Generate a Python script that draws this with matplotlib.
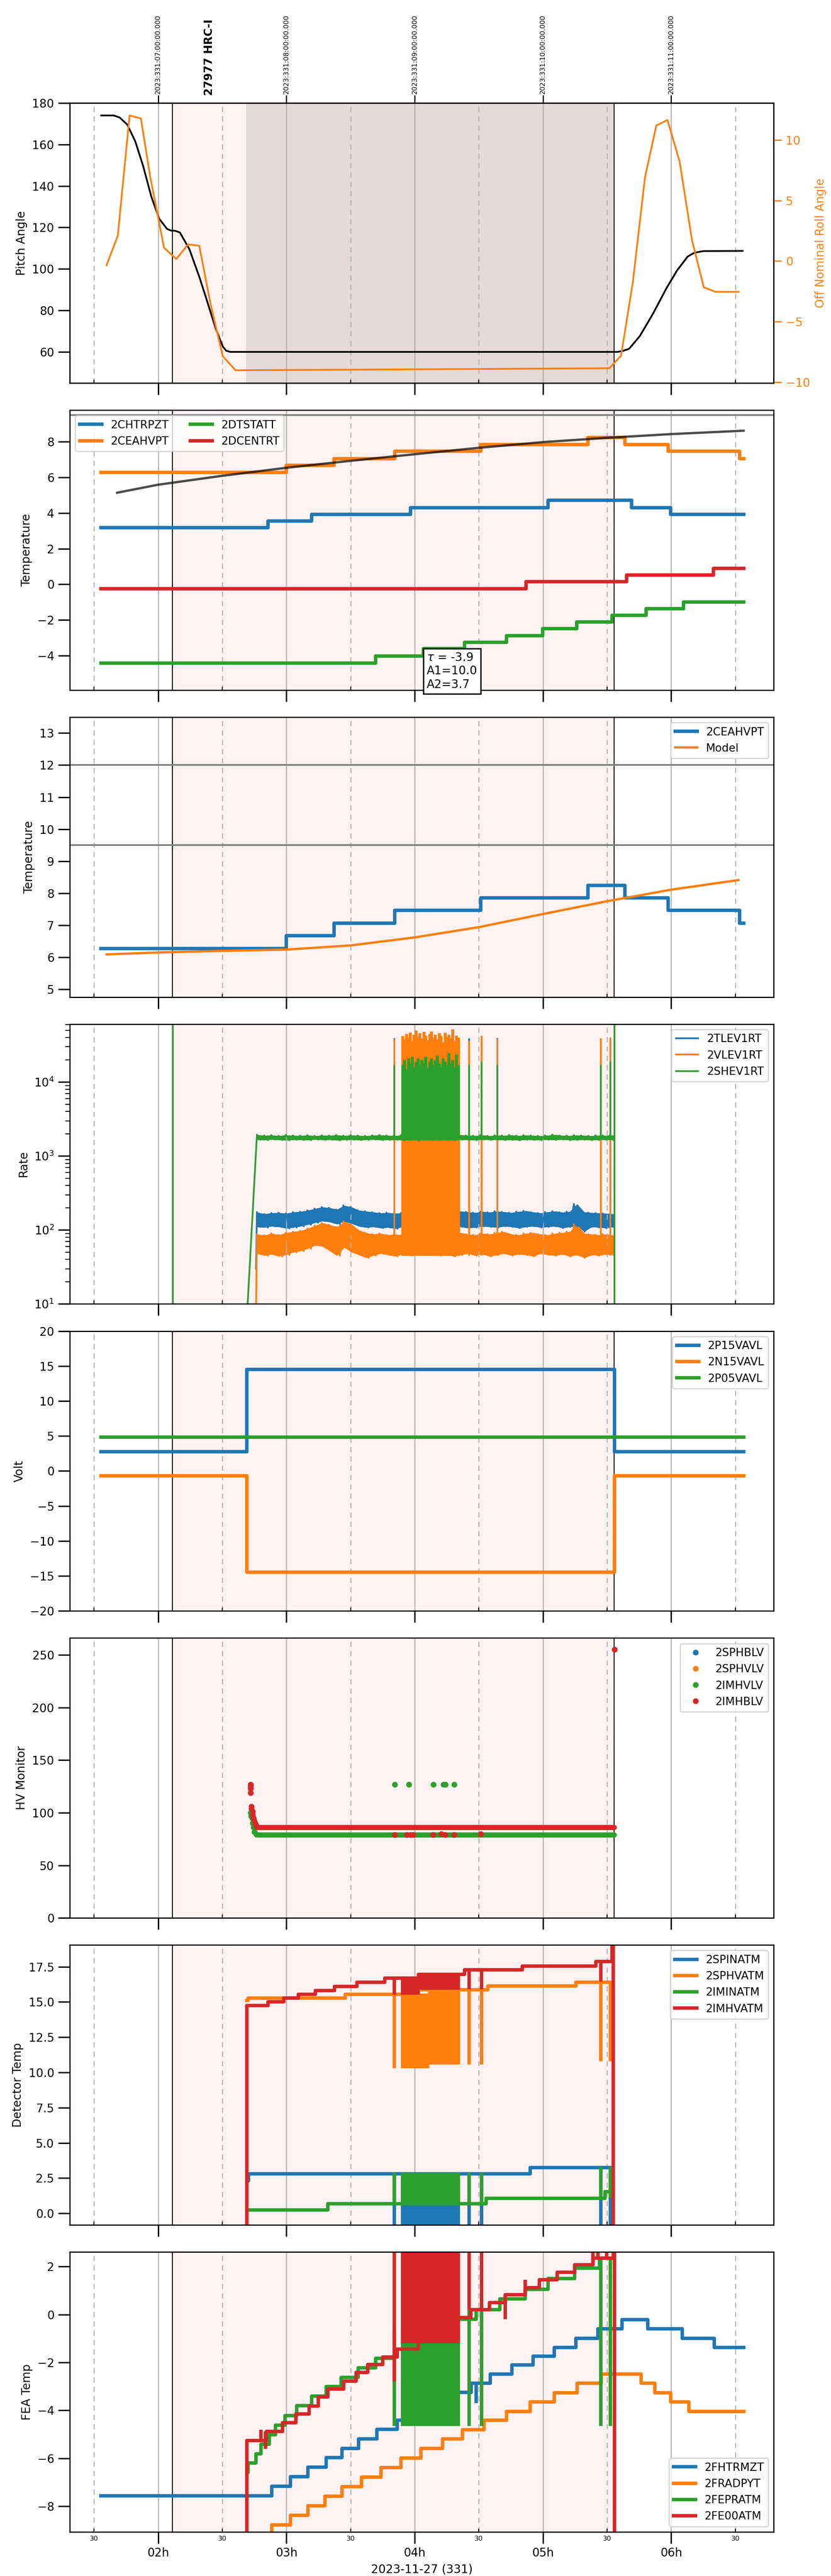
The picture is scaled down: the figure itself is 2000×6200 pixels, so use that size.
import numpy as np
import matplotlib
matplotlib.use('Agg')
import matplotlib.pyplot as plt
import matplotlib.ticker as mticker
import matplotlib.transforms as mtransforms

plt.rcParams['font.family'] = ['DejaVu Sans']
plt.rcParams['font.size'] = 10
plt.rcParams['legend.fontsize'] = 9.5

BLUE, ORANGE, GREEN, RED = '#1f77b4', '#ff7f0e', '#2ca02c', '#d62728'

# ---- time axis: hours of 2023-11-27 (local), top axis shows UTC ----
obs_start = 2.111
obs_stop = 5.555
dark_start = 2.686
obs_label_t = 2.40
obs_label = '27977 HRC-I'
xlim = (1.311, 6.799)
hour_ticks = [2, 3, 4, 5, 6]
hour_labels = ['02h', '03h', '04h', '05h', '06h']
half_ticks = [1.5, 2.5, 3.5, 4.5, 5.5, 6.5]
half_labels = ['30'] * 6
utc_labels = ['2023:331:07:00:00.000', '2023:331:08:00:00.000', '2023:331:09:00:00.000',
              '2023:331:10:00:00.000', '2023:331:11:00:00.000']

# ---- panel 1: pitch / roll ----
pitch_t = [1.556, 1.654, 1.70, 1.759, 1.821, 1.883, 1.946, 2.007, 2.069, 2.10, 2.132, 2.169,
           2.243, 2.324, 2.387, 2.449, 2.503, 2.53, 2.56, 5.58, 5.62, 5.672, 5.755, 5.859,
           5.963, 6.046, 6.129, 6.18, 6.25, 6.557]
pitch_v = [174.0, 174.0, 173.0, 169.6, 161.6, 149.6, 135.0, 124.3, 119.3, 118.5, 118.4, 117.6,
           109.6, 95.6, 83.4, 71.2, 62.7, 60.6, 60.0, 60.0, 60.4, 61.5, 67.6, 78.5,
           90.7, 99.3, 106.0, 107.8, 108.6, 108.7]
roll_t = [1.597, 1.685, 1.777, 1.865, 1.938, 2.0, 2.045, 2.141, 2.233, 2.32, 2.407, 2.503, 2.603,
          5.518, 5.609, 5.70, 5.796, 5.884, 5.971, 6.066, 6.162, 6.254, 6.345, 6.524]
roll_v = [-0.35, 2.1, 12.02, 11.78, 6.94, 3.6, 1.1, 0.17, 1.375, 1.27, -3.48, -7.85, -9.02,
          -8.85, -7.81, -1.81, 6.94, 11.2, 11.65, 8.19, 1.73, -2.17, -2.54, -2.54]

# ---- panel 2: temperatures (steps) ----
chtrpzt_t = [1.555, 2.857, 3.198, 3.967, 5.04, 5.692, 5.996, 6.565]
chtrpzt_v = [3.17, 3.56, 3.93, 4.31, 4.71, 4.31, 3.93, 3.93]
ceahvpt_t = [1.555, 3.0, 3.372, 3.846, 4.516, 5.351, 5.638, 5.975, 6.532, 6.565]
ceahvpt_v = [6.27, 6.67, 7.06, 7.46, 7.85, 8.25, 7.85, 7.46, 7.06, 7.06]
dtstatt_t = [1.555, 3.697, 4.068, 4.388, 4.715, 4.998, 5.264, 5.538, 5.805, 6.096, 6.565]
dtstatt_v = [-4.43, -4.02, -3.6, -3.25, -2.88, -2.49, -2.12, -1.74, -1.37, -0.99, -0.99]
dcentrt_t = [1.555, 4.869, 5.651, 6.329, 6.565]
dcentrt_v = [-0.24, 0.15, 0.52, 0.9, 0.9]
fit_t = [1.68, 2.0, 2.5, 3.0, 3.5, 4.0, 4.5, 5.0, 5.5, 6.0, 6.565]
fit_v = [5.14, 5.59, 6.09, 6.54, 6.93, 7.30, 7.66, 7.98, 8.22, 8.43, 8.62]
fit_text = '$\\tau$ = -3.9\nA1=10.0\nA2=3.7'

# ---- panel 3: 2CEAHVPT vs model ----
model_t = [1.597, 2.0, 2.5, 3.0, 3.5, 4.0, 4.5, 5.0, 5.5, 6.0, 6.524]
model_v = [6.09, 6.15, 6.20, 6.24, 6.37, 6.62, 6.94, 7.35, 7.75, 8.11, 8.41]
limit_lines = [9.5, 12.0]

# ---- panel 4: rates (band envelope hi/lo) ----
band_start, band_end = 2.77, 5.55
tlev_hi = [175, 165, 170, 172, 168, 175, 178, 185, 195, 205, 200, 190, 215, 205, 185, 180, 175,
           170, 172, 168, 170, 175, 180, 240, 178, 172, 175, 170, 180, 176, 172, 178, 174, 180,
           176, 172, 178, 182, 175, 170, 176, 180, 174, 178, 225, 175, 172, 170, 168, 165]
tlev_lo = [110, 108, 112, 110, 105, 108, 112, 118, 125, 132, 128, 120, 130, 122, 112, 108, 110,
           106, 108, 104, 110, 112, 108, 115, 110, 106, 108, 112, 110, 106, 108, 112, 110, 108,
           112, 110, 106, 110, 112, 108, 110, 112, 106, 110, 112, 95, 110, 108, 106, 110]
vlev_hi = [88, 85, 90, 86, 92, 95, 98, 105, 115, 125, 118, 110, 130, 120, 100, 92, 88, 90, 86,
           88, 85, 90, 88, 130, 86, 88, 90, 85, 92, 88, 86, 90, 88, 92, 95, 88, 86, 90, 92, 88,
           86, 90, 92, 95, 120, 90, 88, 86, 88, 85]
vlev_lo = [48, 45, 47, 44, 46, 50, 52, 56, 62, 60, 52, 45, 58, 50, 46, 42, 45, 48, 46, 44, 47,
           45, 48, 50, 47, 45, 48, 44, 46, 48, 45, 47, 44, 46, 48, 45, 47, 46, 44, 48, 46, 45,
           47, 44, 46, 42, 46, 45, 47, 46]
shev_hi = [1950, 1900, 1920, 1880, 1930, 1900, 1890, 1920, 1880, 1910, 1900, 1930, 1890, 1920,
           1900, 1880, 1910, 1930, 1900, 1890, 1920, 1900, 1880, 1910, 1900, 1890, 1920, 1900,
           1940, 1900, 1890, 1920, 1880, 1910, 1900, 1930, 1890, 1920, 1900, 1880, 1910, 1950,
           1900, 1890, 1920, 1900, 1880, 1910, 1900, 1920]
shev_lo = [1660, 1640, 1670, 1650, 1630, 1660, 1650, 1640, 1670, 1650, 1660, 1630, 1650, 1660,
           1640, 1650, 1670, 1640, 1650, 1660, 1630, 1650, 1600, 1650, 1640, 1660, 1650, 1630,
           1660, 1650, 1640, 1670, 1650, 1660, 1640, 1650, 1630, 1660, 1650, 1640, 1660, 1650,
           1670, 1640, 1650, 1660, 1640, 1650, 1660, 1650]
shev_edges = [2.116, 5.559]
dense_t = [3.905, 3.92, 3.935, 3.95, 3.965, 3.98, 3.995, 4.01, 4.025, 4.04, 4.055, 4.07, 4.085,
           4.10, 4.115, 4.13, 4.145, 4.16, 4.175, 4.19, 4.205, 4.22, 4.235, 4.25, 4.265, 4.28,
           4.295, 4.31, 4.325, 4.34]
iso_t = [3.842, 4.424, 4.52, 4.645, 5.451, 5.526]
vlev_dense_pk = [42000, 38000, 45000, 40000, 47000, 36000, 44000, 50000, 41000, 46000, 39000,
                 48000, 43000, 37000, 45000, 49000, 40000, 44000, 38000, 46000, 42000, 35000,
                 47000, 41000, 44000, 39000, 52000, 36000, 43000, 40000]
shev_dense_pk = [17000, 20000, 15000, 21000, 18000, 22000, 16000, 19000, 21000, 17000, 20000,
                 18000, 22000, 16000, 19000, 21000, 17000, 20000, 23000, 18000, 16000, 21000,
                 19000, 17000, 25000, 18000, 20000, 16000, 24000, 17000]
vlev_iso_pk = [38000, 36000, 42000, 38000, 39000, 40000]
shev_iso_pk = [17000, 17000, 19000, 17000, 17000, 19000]

# ---- panel 5: voltages ----
volt_t = [1.555, 2.69, 5.558, 6.565]
p15_v = [2.77, 14.53, 2.77, 2.77]
n15_v = [-0.66, -14.48, -0.66, -0.66]
p05_t = [1.555, 6.565]
p05_v = [4.84, 4.84]

# ---- panel 6: HV monitor ----
imhblv_t = [2.719, 2.719, 2.719, 2.721, 2.728, 2.728, 2.736, 2.736, 2.744, 2.748, 2.757, 2.762,
            2.769, 3.846, 3.938, 3.967, 3.988, 4.141, 4.208, 4.237, 4.308, 4.516, 5.559]
imhblv_v = [127, 125, 123, 119, 106, 104, 101, 98, 95, 92, 90, 88, 87, 79, 79, 79, 79, 79, 80,
            79, 79, 80, 255]
imhblv_run = ([2.77, 5.556], [86, 86])
imhvlv_t = [2.719, 2.722, 2.732, 2.736, 2.744, 2.75, 2.761, 3.846, 3.954, 4.146, 4.225, 4.241,
            4.308]
imhvlv_v = [100, 97, 95, 90, 86, 82, 80, 127, 127, 127, 127, 127, 127]
imhvlv_run = ([2.765, 5.556], [79, 79])

# ---- panel 7: detector temps ----
spinatm_t = [2.69, 2.705, 4.9, 5.538]
spinatm_v = [2.31, 2.81, 3.26, 3.26]
sphvatm_t = [2.69, 2.70, 3.46, 4.03, 4.57, 5.256, 5.538]
sphvatm_v = [15.1, 15.28, 15.54, 15.87, 16.13, 16.4, 16.4]
iminatm_t = [2.69, 3.322, 4.557, 5.484, 5.538]
iminatm_v = [0.25, 0.68, 1.07, 1.54, 1.54]
imhvatm_t = [1.555, 2.69, 2.857, 2.981, 3.094, 3.227, 3.376, 3.551, 3.767, 4.03, 4.39, 4.84,
             5.414, 5.538, 5.548, 5.558, 6.565]
imhvatm_v = [-10, 14.74, 15.02, 15.28, 15.54, 15.82, 16.1, 16.4, 16.69, 16.96, 17.27, 17.55,
             17.86, 40, -10, -10, -10]

# ---- panel 8: FEA temps ----
fhtrmzt_t = [1.555, 2.886, 3.03, 3.168, 3.31, 3.434, 3.563, 3.705, 3.863, 4.05, 4.166, 4.29,
             4.44, 4.59, 4.757, 4.923, 5.09, 5.256, 5.43, 5.617, 5.817, 6.087, 6.337, 6.565]
fhtrmzt_v = [-7.56, -7.17, -6.77, -6.37, -5.97, -5.59, -5.19, -4.79, -4.4, -4.03, -3.65, -3.25,
             -2.87, -2.49, -2.10, -1.73, -1.37, -0.99, -0.59, -0.22, -0.59, -0.99, -1.37, -1.37]
fradpyt_t = [2.876, 2.886, 3.031, 3.168, 3.301, 3.434, 3.584, 3.738, 3.892, 4.05, 4.216, 4.374,
             4.54, 4.715, 4.902, 5.089, 5.268, 5.455, 5.767, 5.871, 5.996, 6.137, 6.565]
fradpyt_v = [-9.5, -8.78, -8.38, -7.98, -7.58, -7.18, -6.78, -6.38, -5.98, -5.59, -5.19, -4.8,
             -4.41, -4.04, -3.64, -3.27, -2.87, -2.49, -2.87, -3.27, -3.64, -4.04, -4.04]
fepratm_t = [2.69, 2.70, 2.761, 2.802, 2.865, 2.915, 2.99, 3.081, 3.198, 3.31, 3.426, 3.559,
             3.696, 3.842, 4.04, 4.17, 4.341, 4.478, 4.665, 4.861, 5.04, 5.247, 5.443, 5.538]
fepratm_v = [-6.6, -6.2, -5.81, -5.41, -5.01, -4.61, -4.21, -3.8, -3.41, -3.01, -2.62, -2.23,
             -1.83, -1.45, -1.0, -0.55, -0.19, 0.2, 0.66, 1.05, 1.51, 1.93, 2.36, 2.36]
fe00atm_t = [1.555, 2.69, 2.844, 2.969, 3.073, 3.177, 3.247, 3.322, 3.447, 3.543, 3.634, 3.751,
             3.863, 4.03, 4.15, 4.25, 4.341, 4.437, 4.582, 4.707, 4.861, 4.973, 5.11, 5.247,
             5.389, 5.547, 5.557, 6.565]
fe00atm_v = [-20, -5.25, -4.88, -4.52, -4.15, -3.82, -3.44, -3.1, -2.78, -2.41, -2.09, -1.77,
             -1.45, -1.0, -0.85, -0.5, -0.12, 0.2, 0.5, 0.82, 1.13, 1.45, 1.77, 2.07, 2.36, 10,
             -20, -20]
# short glitches (time, from, to)
fe00atm_glitch = [(2.802, -5.25, -4.8), (2.836, -5.6, -4.88), (3.842, -2.8, 10), (4.424, 0.2, 10),
                  (4.52, 0.2, 10), (4.707, -0.2, 0.82), (4.861, 0.82, 1.45), (5.389, 2.07, 10),
                  (5.43, 2.36, 10), (5.496, 2.36, 10)]


def steps(ax, t, v, **kw):
    return ax.plot(t, v, drawstyle='steps-post', **kw)


def glitches(ax, items, color, lw):
    for t, a, b in items:
        ax.vlines(t, a, b, color=color, lw=lw)


fig, axes = plt.subplots(8, 1, figsize=(10, 31), sharex=True)
fig.subplots_adjust(left=0.084, right=0.931, top=0.96, bottom=0.0171, hspace=0.0965)

for ax in axes:
    ax.axvspan(obs_start, obs_stop, color='red', alpha=0.05, lw=0, zorder=0)
    ax.axvline(obs_start, color='k', lw=0.8, zorder=1.6)
    ax.axvline(obs_stop, color='k', lw=0.8, zorder=1.6)
    ax.grid(True, which='major', axis='x', color='#b0b0b0', lw=0.9, ls='-')
    ax.grid(True, which='minor', axis='x', color='#b0b0b0', lw=0.9, ls=(0, (5, 4)))
    ax.tick_params(axis='both', which='major', length=10, width=1.2, labelsize=10)
    ax.tick_params(axis='x', which='minor', direction='in', length=3, width=0.8)
    for s in ax.spines.values():
        s.set_linewidth(1.0)

axes[0].set_xlim(xlim)
axes[0].xaxis.set_major_locator(mticker.FixedLocator(hour_ticks))
axes[0].xaxis.set_major_formatter(mticker.FixedFormatter(hour_labels))
axes[0].xaxis.set_minor_locator(mticker.FixedLocator(half_ticks))
axes[0].xaxis.set_minor_formatter(mticker.FixedFormatter(half_labels))

# panel 1
ax = axes[0]
ax.axvspan(dark_start, obs_stop, color='k', alpha=0.1, lw=0, zorder=0.5)
ax.plot(pitch_t, pitch_v, color='k', lw=1.5)
ax.set_ylim(45, 180)
ax.set_ylabel('Pitch Angle')
axr = ax.twinx()
axr.plot(roll_t, roll_v, color=ORANGE, lw=1.5)
axr.set_ylim(-10.07, 13.05)
axr.set_ylabel('Off Nominal Roll Angle', color=ORANGE)
axr.tick_params(axis='y', colors=ORANGE, length=7, width=1.2, labelsize=10)
axt = ax.twiny()
axt.set_xlim(xlim)
axt.set_xticks(hour_ticks)
axt.set_xticklabels(utc_labels, rotation=90, fontsize=5.8)
axt.tick_params(axis='x', length=7, width=1.0, pad=1)
ax.text(obs_label_t, 1.027, obs_label, transform=mtransforms.blended_transform_factory(ax.transData, ax.transAxes),
        rotation=90, ha='center', va='bottom', fontweight='bold', fontsize=9.5)

# panel 2
ax = axes[1]
steps(ax, chtrpzt_t, chtrpzt_v, color=BLUE, lw=3, label='2CHTRPZT')
steps(ax, ceahvpt_t, ceahvpt_v, color=ORANGE, lw=3, label='2CEAHVPT')
steps(ax, dtstatt_t, dtstatt_v, color=GREEN, lw=3, label='2DTSTATT')
steps(ax, dcentrt_t, dcentrt_v, color=RED, lw=3, label='2DCENTRT')
ax.plot(fit_t, fit_v, color='k', alpha=0.7, lw=2)
ax.axhline(limit_lines[0], color='gray', lw=1.5)
ax.set_ylim(-5.93, 9.78)
ax.text(4.094, -3.79, fit_text, va='top', ha='left', fontsize=10,
        bbox=dict(boxstyle='square,pad=0.3', fc='white', ec='k', lw=1.2))
ax.set_ylabel('Temperature')
ax.legend(loc='upper left', ncol=2)

# panel 3
ax = axes[2]
steps(ax, ceahvpt_t, ceahvpt_v, color=BLUE, lw=3, label='2CEAHVPT')
ax.plot(model_t, model_v, color=ORANGE, lw=2, label='Model')
for y in limit_lines:
    ax.axhline(y, color='gray', lw=1.5)
ax.set_ylim(4.76, 13.5)
ax.set_ylabel('Temperature')
ax.legend(loc='upper right')

# panel 4
ax = axes[3]
ax.set_yscale('log')
tb = np.linspace(band_start, band_end, len(tlev_hi))
tz = np.linspace(band_start, band_end, 2 * len(tlev_hi))
for hi, lo, c, name, t0 in [(tlev_hi, tlev_lo, BLUE, '2TLEV1RT', 30),
                            (vlev_hi, vlev_lo, ORANGE, '2VLEV1RT', 8),
                            (shev_hi, shev_lo, GREEN, '2SHEV1RT', 5)]:
    zig = np.column_stack([hi, lo]).ravel()
    ax.fill_between(tb, lo, hi, color=c, lw=0)
    lead = 2.688 if c == GREEN else 2.763
    ax.plot(np.concatenate([[lead], tz]), np.concatenate([[t0], zig]), color=c, lw=1.5, label=name)
    if c == BLUE:
        ax.vlines(iso_t, 110, 39000, color=BLUE, lw=1.5)
    if c == ORANGE:
        ax.vlines(dense_t, 45, vlev_dense_pk, color=ORANGE, lw=2.6)
        ax.vlines(iso_t, 45, vlev_iso_pk, color=ORANGE, lw=1.5)
    if c == GREEN:
        ax.vlines(dense_t, 1650, shev_dense_pk, color=GREEN, lw=2.6)
        ax.vlines(iso_t, 1650, shev_iso_pk, color=GREEN, lw=1.5)
        ax.vlines(shev_edges, 1, 1e6, color=GREEN, lw=1.5)
ax.set_ylim(10, 6.1e4)
ax.tick_params(axis='y', which='minor', length=4, width=0.8)
ax.set_ylabel('Rate')
ax.legend(loc='upper right')

# panel 5
ax = axes[4]
steps(ax, volt_t, p15_v, color=BLUE, lw=3, label='2P15VAVL')
steps(ax, volt_t, n15_v, color=ORANGE, lw=3, label='2N15VAVL')
steps(ax, p05_t, p05_v, color=GREEN, lw=3, label='2P05VAVL')
ax.set_ylim(-20, 20)
ax.set_ylabel('Volt')
ax.legend(loc='upper right')

# panel 6
ax = axes[5]
ax.plot([], [], 'o', color=BLUE, ms=4, label='2SPHBLV')
ax.plot([], [], 'o', color=ORANGE, ms=4, label='2SPHVLV')
ax.plot(*imhvlv_run, color=GREEN, lw=4.5, solid_capstyle='round')
ax.plot(imhvlv_t, imhvlv_v, 'o', color=GREEN, ms=4, label='2IMHVLV')
ax.plot(*imhblv_run, color=RED, lw=4.5, solid_capstyle='round')
ax.plot(imhblv_t, imhblv_v, 'o', color=RED, ms=4, label='2IMHBLV')
ax.set_ylim(0, 266)
ax.set_ylabel('HV Monitor')
ax.legend(loc='upper right')

# panel 7
ax = axes[6]
steps(ax, spinatm_t, spinatm_v, color=BLUE, lw=3, label='2SPINATM')
ax.vlines(dense_t + iso_t[:3], -1, 2.81, color=BLUE, lw=3)
ax.vlines(iso_t[4:], -1, 3.26, color=BLUE, lw=3)
steps(ax, sphvatm_t, sphvatm_v, color=ORANGE, lw=3, label='2SPHVATM')
ax.vlines(dense_t[:14] + iso_t[:1], 10.3, 15.6, color=ORANGE, lw=3)
ax.vlines(dense_t[14:] + iso_t[1:3], 10.55, 15.9, color=ORANGE, lw=3)
ax.vlines(iso_t[4:], 10.8, 16.4, color=ORANGE, lw=3)
steps(ax, iminatm_t, iminatm_v, color=GREEN, lw=3, label='2IMINATM')
ax.vlines(dense_t + iso_t[:3], 0.68, 2.89, color=GREEN, lw=3)
ax.vlines(iso_t[4:], 1.1, 3.3, color=GREEN, lw=3)
steps(ax, imhvatm_t, imhvatm_v, color=RED, lw=3, label='2IMHVATM')
ax.vlines(dense_t[:9] + iso_t[:1], 15.5, 16.69, color=RED, lw=3)
ax.vlines(dense_t[9:], 15.85, 17.0, color=RED, lw=3)
ax.vlines(iso_t[1:3], 15.9, 17.27, color=RED, lw=3)
ax.vlines(iso_t[4:5], 16.44, 17.86, color=RED, lw=3)
ax.set_ylim(-0.82, 19.04)
ax.set_ylabel('Detector Temp')
ax.legend(loc='upper right')

# panel 8
ax = axes[7]
steps(ax, fhtrmzt_t, fhtrmzt_v, color=BLUE, lw=3, label='2FHTRMZT')
ax.vlines([4.478], -3.7, -2.87, color=BLUE, lw=3)
steps(ax, fradpyt_t, fradpyt_v, color=ORANGE, lw=3, label='2FRADPYT')
steps(ax, fepratm_t, fepratm_v, color=GREEN, lw=3, label='2FEPRATM')
ax.vlines(dense_t + iso_t[:1], -4.65, -0.6, color=GREEN, lw=3)
ax.vlines(iso_t[1:3], -4.65, 0.2, color=GREEN, lw=3)
ax.vlines(iso_t[4:], -4.65, 2.36, color=GREEN, lw=3)
steps(ax, fe00atm_t, fe00atm_v, color=RED, lw=3, label='2FE00ATM')
ax.vlines(dense_t, -1.2, 10, color=RED, lw=3)
glitches(ax, fe00atm_glitch, RED, 3)
ax.set_ylim(-9.07, 2.61)
ax.set_ylabel('FEA Temp')
ax.legend(loc='lower right')
ax.tick_params(axis='x', which='minor', labelsize=5.8)
ax.set_xlabel('2023-11-27 (331)')

fig.savefig('out.png', dpi=200)
